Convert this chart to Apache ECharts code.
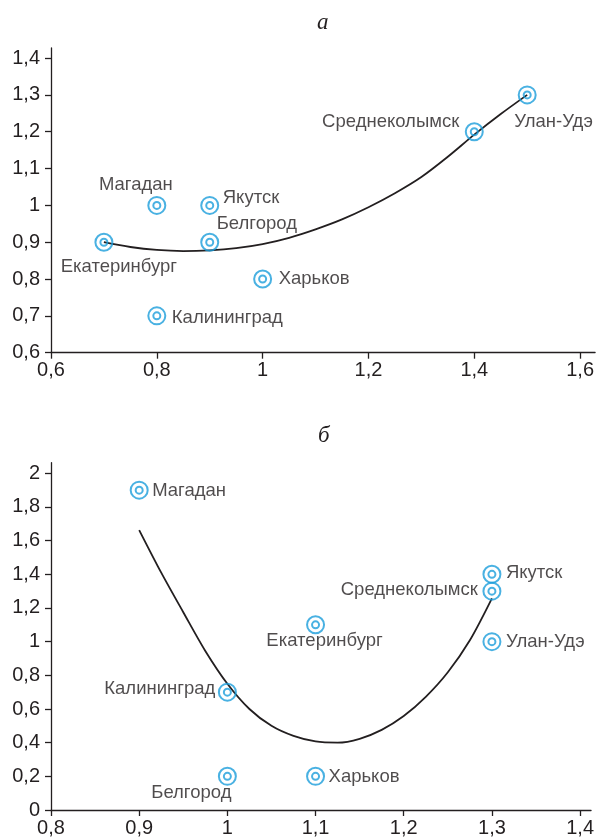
<!DOCTYPE html>
<html>
<head>
<meta charset="utf-8">
<script src="https://cdn.jsdelivr.net/npm/echarts@6/dist/echarts.min.js"></script>
<style>
  html, body { margin: 0; padding: 0; background: #fff; }
  #chart { width: 597px; height: 839px; }
</style>
</head>
<body>
<div id="chart"></div>
<script>
// ---- Panel "а" ----
const citiesA = ['Екатеринбург', 'Магадан', 'Якутск', 'Белгород', 'Калининград', 'Харьков', 'Среднеколымск', 'Улан-Удэ'];
const xA = [0.7, 0.8, 0.9, 0.9, 0.8, 1.0, 1.4, 1.5];
const yA = [0.9, 1.0, 1.0, 0.9, 0.7, 0.8, 1.2, 1.3];
const trendXA = [0.70, 0.75, 0.80, 0.85, 0.90, 0.95, 1.00, 1.05, 1.10, 1.15, 1.20, 1.25, 1.30, 1.35, 1.40, 1.45, 1.50];
const trendYA = [0.900, 0.887, 0.879, 0.876, 0.878, 0.884, 0.895, 0.912, 0.935, 0.962, 0.995, 1.033, 1.077, 1.132, 1.192, 1.248, 1.300];
const xTicksA = [0.6, 0.8, 1.0, 1.2, 1.4, 1.6];
const yTicksA = [0.6, 0.7, 0.8, 0.9, 1.0, 1.1, 1.2, 1.3, 1.4];

// ---- Panel "б" ----
const citiesB = ['Магадан', 'Якутск', 'Среднеколымск', 'Екатеринбург', 'Улан-Удэ', 'Калининград', 'Белгород', 'Харьков'];
const xB = [0.9, 1.3, 1.3, 1.1, 1.3, 1.0, 1.0, 1.1];
const yB = [1.9, 1.4, 1.3, 1.1, 1.0, 0.7, 0.2, 0.2];
const trendXB = [0.900, 0.925, 0.950, 0.975, 1.000, 1.025, 1.050, 1.075, 1.100, 1.125, 1.150, 1.175, 1.200, 1.225, 1.250, 1.275, 1.300];
const trendYB = [1.663, 1.410, 1.175, 0.945, 0.750, 0.600, 0.500, 0.440, 0.407, 0.400, 0.423, 0.476, 0.558, 0.672, 0.818, 1.008, 1.257];
const xTicksB = [0.8, 0.9, 1.0, 1.1, 1.2, 1.3, 1.4];
const yTicksB = [0, 0.2, 0.4, 0.6, 0.8, 1.0, 1.2, 1.4, 1.6, 1.8, 2.0];

const INK = '#231f20';
const RING = '#1b9ddb';
const FONT = '"Liberation Sans", Arial, sans-serif';

// label anchor relative to each marker: [dx, dy, align]
const labelPlaceA = {
  'Екатеринбург': [15, 25, 'center'],
  'Магадан': [-21, -20, 'center'],
  'Якутск': [13, -7, 'left'],
  'Белгород': [7, -18, 'left'],
  'Калининград': [15, 2, 'left'],
  'Харьков': [16, 0, 'left'],
  'Среднеколымск': [-15, -10, 'right'],
  'Улан-Удэ': [-13, 27, 'left']
};
const labelPlaceB = {
  'Магадан': [13, 1, 'left'],
  'Якутск': [14, -1, 'left'],
  'Среднеколымск': [-14, -1, 'right'],
  'Екатеринбург': [9, 16, 'center'],
  'Улан-Удэ': [14, 0, 'left'],
  'Калининград': [-12, -3, 'right'],
  'Белгород': [-36, 17, 'center'],
  'Харьков': [13, 1, 'left']
};

function pairs(xs, ys) { return xs.map((x, i) => [x, ys[i]]); }
function fmt(v) { return String(+v.toFixed(2)).replace('.', ','); }

function pointsWithLabels(names, xs, ys, place) {
  return names.map((n, i) => {
    const p = place[n];
    return {
      name: n,
      value: [xs[i], ys[i]],
      label: {
        show: true,
        position: 'inside',
        align: p[2],
        verticalAlign: 'middle',
        offset: [p[0], p[1]],
        formatter: '{b}',
        color: INK,
        fontSize: 18.5,
        fontFamily: FONT
      }
    };
  });
}

function makeXAxis(gridIndex, min, max, ticks) {
  return {
    type: 'value', gridIndex, min, max,
    axisLine: { show: true, lineStyle: { color: INK, width: 1.3 } },
    axisTick: { show: true, length: 6, inside: false, customValues: ticks, lineStyle: { color: INK, width: 1.3 } },
    axisLabel: { customValues: ticks, formatter: fmt, color: INK, fontSize: 20, fontFamily: FONT, margin: 8 },
    splitLine: { show: false }
  };
}
function makeYAxis(gridIndex, min, max, ticks) {
  return {
    type: 'value', gridIndex, min, max,
    axisLine: { show: true, lineStyle: { color: INK, width: 1.3 } },
    axisTick: { show: true, length: 6, inside: false, customValues: ticks, lineStyle: { color: INK, width: 1.3 } },
    axisLabel: { customValues: ticks, formatter: fmt, color: INK, fontSize: 20, fontFamily: FONT, margin: 11 },
    splitLine: { show: false }
  };
}

function ringSeries(axisIdx, data, size, withLabels) {
  return {
    type: 'scatter', xAxisIndex: axisIdx, yAxisIndex: axisIdx,
    symbol: 'circle', symbolSize: size,
    itemStyle: { color: 'rgba(255,255,255,0)', borderColor: RING, borderWidth: 2 },
    emphasis: { disabled: true },
    silent: true,
    z: 5,
    data: data,
    label: withLabels ? undefined : { show: false }
  };
}

function trendSeries(axisIdx, xs, ys) {
  return {
    type: 'line', xAxisIndex: axisIdx, yAxisIndex: axisIdx,
    data: pairs(xs, ys),
    smooth: 0.3, symbol: 'none',
    lineStyle: { color: INK, width: 1.8 },
    silent: true, z: 3
  };
}

const chart = echarts.init(document.getElementById('chart'), null, { renderer: 'canvas' });

const titleStyle = { fontFamily: '"Liberation Serif", "Times New Roman", serif', fontStyle: 'italic', fontWeight: 'normal', fontSize: 23, color: INK };

chart.setOption({
  animation: false,
  backgroundColor: '#ffffff',
  title: [
    { text: 'а', left: 312, top: 6, textStyle: titleStyle },
    { text: 'б', left: 313, top: 419, textStyle: titleStyle }
  ],
  grid: [
    { left: 51, top: 48, width: 545, height: 304.7 },
    { left: 51, top: 462.7, width: 542, height: 347.3 }
  ],
  xAxis: [
    makeXAxis(0, 0.6, 1.6283, xTicksA),
    makeXAxis(1, 0.8, 1.4124, xTicksB)
  ],
  yAxis: [
    makeYAxis(0, 0.6, 1.4273, yTicksA),
    makeYAxis(1, 0, 2.063, yTicksB)
  ],
  series: [
    trendSeries(0, trendXA, trendYA),
    trendSeries(1, trendXB, trendYB),
    ringSeries(0, pointsWithLabels(citiesA, xA, yA, labelPlaceA), 17, true),
    ringSeries(0, pairs(xA, yA), 7, false),
    ringSeries(1, pointsWithLabels(citiesB, xB, yB, labelPlaceB), 17, true),
    ringSeries(1, pairs(xB, yB), 7, false)
  ]
});
</script>
</body>
</html>
